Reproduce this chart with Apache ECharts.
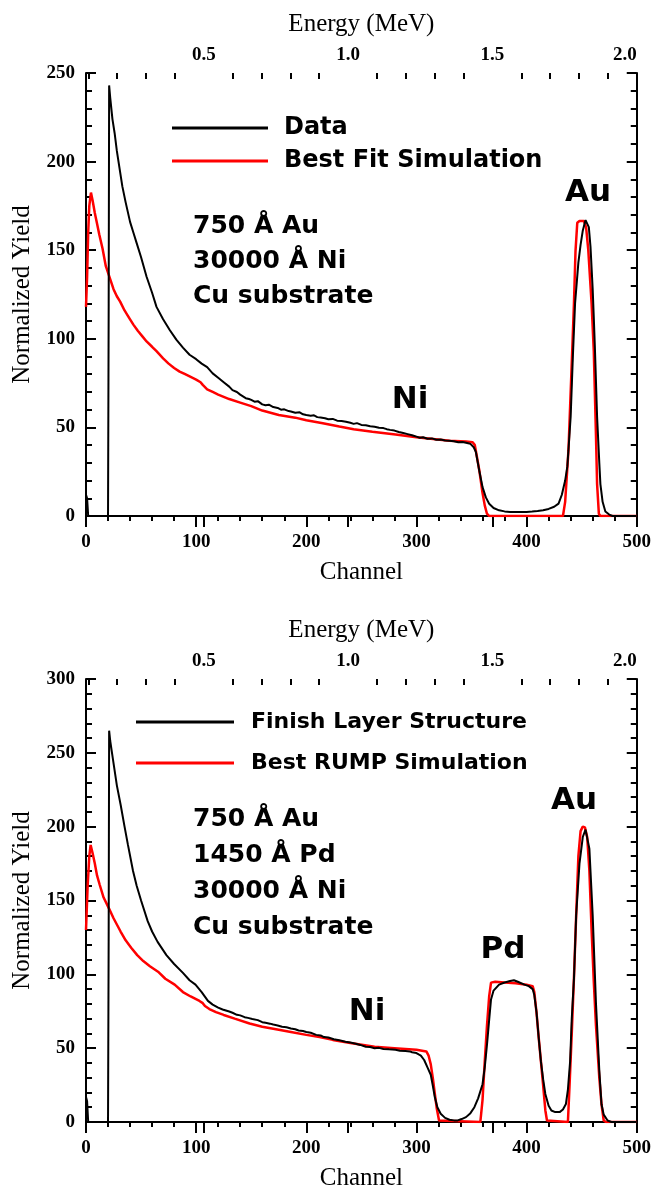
<!DOCTYPE html>
<html><head><meta charset="utf-8">
<script src="https://cdn.jsdelivr.net/npm/echarts@6/dist/echarts.min.js"></script>
<style>html,body{margin:0;padding:0;background:#fff}#c{width:654px;height:1192px}</style>
</head><body><div id="c"></div>
<script>
// ---------- data (channel, normalized yield) ----------
const channelRange = [0, 500];
const topYieldRange = [0, 250];
const bottomYieldRange = [0, 300];
const energyRange = [0.092, 2.0];           // MeV at channel 0 and 500
const energyMajorTicks = [0.5, 1.0, 1.5, 2.0];
const energyMinorTicks = [0.1,0.2,0.3,0.4,0.6,0.7,0.8,0.9,1.1,1.2,1.3,1.4,1.6,1.7,1.8,1.9];

const topSeriesNames = ['Data', 'Best Fit Simulation'];
const bottomSeriesNames = ['Finish Layer Structure', 'Best RUMP Simulation'];

const topData = [[0,12],[1,10],[2,0],[20,0],[20.6,120],[21,243],[22,236],[24,224],[26,216],[28,206],[30,198],[33,186],[36,177],[40,166],[43,160],[46,154],[50,146],[55,135],[60,126],[64,118],[70,111],[76,105],[82,99.5],[88,95],[94,91],[100,88.5],[105,86],[110,84],[115,80.5],[120,78],[125,75.5],[130,73],[133,71],[137,70],[140,68.5],[145,66.5],[148,66],[150,65.5],[153,64.5],[156,64.8],[160,63],[163,62.5],[166,62.8],[170,61.5],[174,61],[177,60],[180,60.2],[184,59.2],[186,59],[190,58.3],[194,58.5],[197,57.4],[200,57],[204,56.6],[207,56.8],[210,55.8],[213,55.6],[217,55.2],[220,54.6],[224,54.8],[228,53.8],[232,53.6],[236,53.2],[240,52.6],[243,52],[246,52.4],[250,51.4],[254,51.2],[258,50.6],[262,50.4],[266,49.8],[270,49.6],[273,49],[276,48.6],[280,48.2],[284,47.4],[288,46.8],[292,46.2],[296,45.6],[300,44.8],[303,44.2],[306,44.4],[310,43.6],[314,43.8],[318,43],[322,43.2],[326,42.6],[330,42.5],[334,42.2],[338,41.6],[342,41.8],[346,41.2],[349,40.7],[352,38.8],[354,36],[357,25.7],[360,16.3],[363,10.5],[366,6.9],[370,4.5],[375,3.2],[380,2.6],[385,2.3],[390,2.2],[395,2.2],[400,2.3],[405,2.5],[410,2.8],[415,3.2],[420,4],[425,5.2],[429,7],[432,12],[435,20],[437,28],[440,56],[442,90],[444,120],[447,143],[449,153],[451,161],[453.5,167],[455,167],[456.5,163],[458,152],[460,128],[461,112],[462,95],[464,56],[466,30],[467,18],[469,8],[471.5,2.5],[475,0.8],[478,0],[500,0]];

const topSim = [[0,118],[1,135],[2,160],[3,175],[4.5,182.5],[6,178],[8,171],[10,165],[12,159],[15,151],[18,141],[21.8,134],[25,128],[28,124],[31,121],[35,116],[39,112],[43,108],[47,104.5],[51,101.5],[55,98.5],[60,95.5],[64,93],[70,89],[75,86],[80,83.5],[85,81.5],[90,80],[95,78.5],[100,77],[104,75.5],[106,74],[110,71.5],[115,70],[120,68.5],[130,66],[140,64],[150,62],[160,59.5],[175,57],[190,55.5],[200,54],[215,52.3],[230,50.5],[243,49],[260,47.5],[281,46],[300,44.5],[315,43.5],[330,42.5],[345,42],[351,41.6],[353,40],[355,33],[357,26],[360,13],[362,6],[364,1.3],[366,0],[433,0],[435,8],[438,37],[441.4,93],[443,120],[444.4,149.5],[446,165.5],[448,166.5],[452,166.5],[454,163],[456,150],[459,120],[461,93],[463,45],[464,18],[465.6,1.3],[467,0],[500,0]];

const bottomData = [[0,17],[1,14],[2,0],[20,0],[20.6,130],[21,265],[22,258],[24,248],[26,238],[28,228],[31.4,215],[35,200],[38,188],[42.7,170],[46,160],[50,150],[56,136],[60,129],[65,122],[73,113],[80,107],[88,101],[94,96],[99.4,93],[105,88],[110.7,82],[115,79.5],[120,77.5],[124,76.2],[127,75.5],[130,74.8],[133,74],[137,72.6],[140,72.2],[144,71],[147,70.5],[151,69.8],[156,69],[160,67.6],[163,67.2],[167,66.6],[170,66],[174,65.4],[178,64.5],[182,64.2],[186,63.3],[190,62.8],[193,62],[197,61.6],[200,61],[204,60.4],[209,59],[213,58.6],[216,57.5],[220,57.2],[225,56],[230,55.4],[235.5,54.4],[240,53.8],[245,53],[249,52.2],[254,51],[258,50.8],[262,50],[266,50.2],[270,49.5],[275,49.2],[281,48.9],[285,48.2],[290,48],[294,47.8],[296,47.2],[300,46.7],[302,45.8],[304,45],[307,42],[310,37],[313,32],[315,24],[316.7,16.7],[319,10],[322,5.6],[326,2.8],[330,1.5],[334,1.1],[337.5,1.1],[341,2],[345,3.3],[349,6],[352.6,10],[356,16],[360,25.6],[362,37],[364,52],[366,69],[367.7,83],[370,89],[375,93],[380,94.5],[385,95.5],[388.5,96],[392,95],[398,93],[402,92],[405.5,90],[407,86],[409,74.4],[411,57],[413,41],[415,29],[417,19],[420,11],[422.5,7.8],[426,6.7],[430,6.7],[433,8.5],[435.7,12.2],[437.5,22],[439.5,41],[441,70],[443,97],[445,140],[448,175],[451,193],[453.5,198],[455,197],[457,185],[460,140],[463,80],[466,35],[468,12],[470,5],[473.5,1],[477,0],[500,0]];

const bottomSim = [[0,130],[1.5,160],[3,180],[4.2,187.6],[6,182],[8,175],[10,167],[12.5,160.5],[16,152],[20.8,144.7],[25,138],[31.4,129],[36,123],[41,118],[46.5,113],[52,109],[58,105.5],[65.4,101.8],[72,97],[80.5,93],[88,88],[95,85],[103,82],[106,80.5],[108,78.5],[112,76.5],[118,74.4],[125,72.5],[135,70],[148.5,66.7],[160,64.5],[175,62.5],[186,61],[200,59],[212,57.5],[224,55.6],[240,53.5],[262,51],[280,50],[300,48.9],[309,47.8],[311,45],[313,39],[315,29],[316.7,19],[318.5,9],[320.5,1],[322,0],[358,0],[360,15],[362,41],[364,65],[366,85],[367.7,94.4],[371.5,95],[380,94.5],[390,94],[400,93],[405.5,92],[407,88],[409,74],[411,57],[413,41],[415,25],[417,8],[418.5,1],[420,0],[437.5,0],[439,25],[441,60],[443,98],[445,140],[447,180],[449,197],[451,200],[453,199.5],[455,193],[457,170],[459,130],[461,95],[463,65],[466,30],[468,12],[470,1],[472,0],[500,0]];

const topLayers = ['750 Å Au', '30000 Å Ni', 'Cu substrate'];
const bottomLayers = ['750 Å Au', '1450 Å Pd', '30000 Å Ni', 'Cu substrate'];

// ---------- styles ----------
const serif = '"Liberation Serif", "Times New Roman", serif';
const sans = '"DejaVu Sans", Verdana, sans-serif';
const black = '#000';
const red = '#ff0000';
const tickLabel = {color: black, fontFamily: serif, fontWeight: 'bold', fontSize: 19};
const nameStyle = {color: black, fontFamily: serif, fontSize: 25};

const grids = [
  {left: 86, top: 73, width: 552, height: 443},
  {left: 86, top: 679, width: 552, height: 445}
];

function axesFor(g, yRange) {
  const line = {lineStyle: {color: black, width: 2}};
  const xs = [
    { gridIndex: g, type: 'value', position: 'bottom', min: channelRange[0], max: channelRange[1], interval: 100,
      axisLine: line, splitLine: {show: false},
      axisTick: {inside: false, length: 11, lineStyle: {color: black, width: 2}},
      minorTick: {show: true, splitNumber: 5, length: 5, lineStyle: {color: black, width: 2}},
      axisLabel: Object.assign({margin: 17}, tickLabel),
      name: 'Channel', nameLocation: 'middle', nameGap: 44, nameTextStyle: nameStyle },
    { gridIndex: g, type: 'value', position: 'top', min: energyRange[0], max: energyRange[1],
      axisLine: line, splitLine: {show: false},
      axisTick: {inside: true, length: 11, customValues: energyMajorTicks, lineStyle: {color: black, width: 2}},
      axisLabel: Object.assign({margin: 8, customValues: energyMajorTicks, alignMaxLabel: 'right',
        formatter: v => Number(v).toFixed(1)}, tickLabel),
      name: 'Energy (MeV)', nameLocation: 'middle', nameGap: 36, nameTextStyle: nameStyle },
    { gridIndex: g, type: 'value', position: 'top', min: energyRange[0], max: energyRange[1],
      axisLine: {show: false}, splitLine: {show: false},
      axisTick: {inside: true, length: 6, customValues: energyMinorTicks, lineStyle: {color: black, width: 2}},
      axisLabel: {show: false} }
  ];
  const ys = [
    { gridIndex: g, type: 'value', position: 'left', min: yRange[0], max: yRange[1], interval: 50,
      axisLine: line, splitLine: {show: false},
      axisTick: {inside: true, length: 10, lineStyle: {color: black, width: 2}},
      minorTick: {show: true, splitNumber: 5, length: 6, lineStyle: {color: black, width: 2}},
      axisLabel: Object.assign({margin: 11}, tickLabel),
      name: 'Normalized Yield', nameLocation: 'middle', nameGap: 51, nameRotate: 90,
      nameTextStyle: nameStyle },
    { gridIndex: g, type: 'value', position: 'right', min: yRange[0], max: yRange[1], interval: 50,
      axisLine: line, splitLine: {show: false},
      axisTick: {inside: true, length: 10, lineStyle: {color: black, width: 2}},
      minorTick: {show: true, splitNumber: 5, length: 6, lineStyle: {color: black, width: 2}},
      axisLabel: {show: false} }
  ];
  return {xs, ys};
}
const a0 = axesFor(0, topYieldRange);
const a1 = axesFor(1, bottomYieldRange);

function lineSeries(name, data, color, xi, yi, w) {
  return {name, type: 'line', data, xAxisIndex: xi, yAxisIndex: yi, showSymbol: false, symbol: 'none',
    animation: false, lineStyle: {color, width: w}, itemStyle: {color}, z: color === red ? 2 : 3};
}

const layerText = (arr, x, y0, dy) => arr.map((t, i) => ({type: 'text', left: x, top: y0 + i * dy,
  style: {text: t, fill: black, font: 'bold 25px ' + sans}}));
const label = (t, cx, cy, size) => ({type: 'text', x: cx, y: cy,
  style: {text: t, fill: black, font: 'bold ' + size + 'px ' + sans, align: 'center', verticalAlign: 'middle'}});

const chart = echarts.init(document.getElementById('c'), null, {renderer: 'canvas'});
chart.setOption({
  animation: false,
  backgroundColor: '#fff',
  grid: grids,
  xAxis: a0.xs.concat(a1.xs),
  yAxis: a0.ys.concat(a1.ys),
  legend: [
    { data: topSeriesNames, orient: 'vertical', left: 167, top: 111, itemWidth: 96, itemHeight: 3, itemGap: 9,
      icon: 'rect', textStyle: {fontFamily: sans, fontWeight: 'bold', fontSize: 24, color: black, padding: [0,0,0,11]} },
    { data: bottomSeriesNames, orient: 'vertical', left: 131, top: 706, itemWidth: 98, itemHeight: 3, itemGap: 19,
      icon: 'rect', textStyle: {fontFamily: sans, fontWeight: 'bold', fontSize: 22, color: black, padding: [0,0,0,12]} }
  ],
  series: [
    lineSeries(topSeriesNames[1], topSim, red, 0, 0, 2.5),
    lineSeries(topSeriesNames[0], topData, black, 0, 0, 2),
    lineSeries(bottomSeriesNames[1], bottomSim, red, 3, 2, 2.5),
    lineSeries(bottomSeriesNames[0], bottomData, black, 3, 2, 2)
  ],
  graphic: [].concat(
    layerText(topLayers, 193, 214, 35),
    layerText(bottomLayers, 193, 807, 36),
    [label('Ni', 410, 400, 31), label('Au', 588, 193, 31),
     label('Ni', 367, 1012, 31), label('Pd', 503, 950, 31), label('Au', 574, 801, 31)]
  )
});
</script></body></html>
